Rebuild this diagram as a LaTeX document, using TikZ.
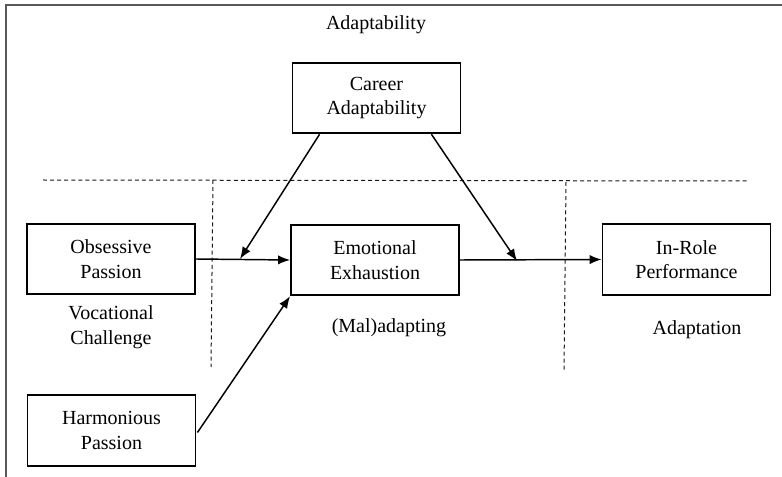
\documentclass[tikz,border=0pt]{standalone}
\usepackage{fontspec}
\setmainfont{Liberation Serif}
\usetikzlibrary{arrows.meta,calc}
\begin{document}
\begin{tikzpicture}[x=0.75pt,y=-0.75pt,
  every node/.style={font=\fontsize{15}{18.5}\selectfont},
  box/.style={draw,line width=1.4pt,minimum width=126pt,minimum height=53pt,align=center,inner sep=0pt},
  lbl/.style={align=center,inner sep=0pt},
  arr/.style={line width=1.1pt,-{Latex[length=9pt,width=7pt]}},
  sep/.style={line width=0.75pt,dash pattern=on 3pt off 2.3pt,black!90},
  frame/.style={line width=1.1pt,black!65}]
\useasboundingbox (0,0) rectangle (782,477);
\draw[frame] (6,477) -- (6,5) -- (782,5);
\node[lbl] (ad) at (376,25) {Adaptability};
\node[box] (car) at (376.5,98) {Career\\Adaptability};
\node[box] (op) at (111,259) {Obsessive\\Passion};
\node[box] (emo) at (375,260) {Emotional\\Exhaustion};
\node[box] (ir) at (686.5,259.5) {In-Role\\Performance};
\node[box] (hp) at (111.5,430.5) {Harmonious\\Passion};
\node[lbl] (vc) at (111,327) {Vocational\\Challenge};
\node[lbl] (mal) at (389,328) {(Mal)adapting};
\node[lbl] (adp) at (697,330) {Adaptation};
\coordinate (h1) at (43,180);
\coordinate (h2) at (748,181);
\coordinate (v1a) at (213,180);
\coordinate (v1b) at (211,367);
\coordinate (v2a) at (566,182);
\coordinate (v2b) at (564,370);
\draw[sep] (h1) -- (h2);
\draw[sep] (v1a) -- (v1b);
\draw[sep] (v2a) -- (v2b);
\coordinate (m1) at (240,259);
\coordinate (m2) at (517,261);
\draw[arr] (op.east) -- (emo.west);
\draw[arr] (emo.east) -- (ir.west);
\draw[arr] ($(hp.east)+(1,2)$) -- (emo.south west);
\draw[arr] ($(car.south west)+(28,0)$) -- (m1);
\draw[arr] ($(car.south east)+(-30,0)$) -- (m2);
\end{tikzpicture}
\end{document}
